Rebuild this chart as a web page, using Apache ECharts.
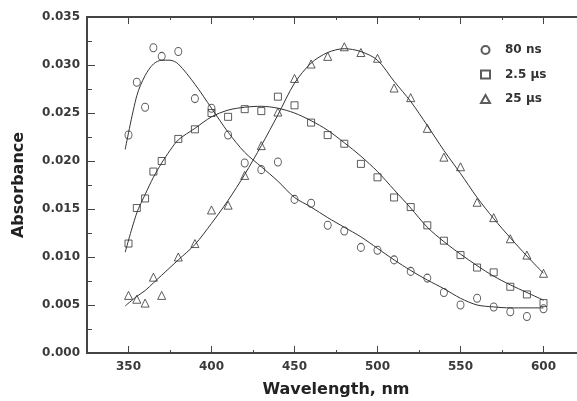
<!DOCTYPE html>
<html>
<head>
<meta charset="utf-8">
<script src="https://cdn.jsdelivr.net/npm/echarts@6/dist/echarts.min.js"></script>
<style>
  html, body { margin: 0; padding: 0; background: #fff; }
  #chart { width: 577px; height: 401px; }
</style>
</head>
<body>
<div id="chart"></div>
<script>
// measured points
const wl80 = [350, 355, 360, 365, 370, 380, 390, 400, 410, 420, 430, 440, 450, 460, 470, 480, 490, 500, 510, 520, 530, 540, 550, 560, 570, 580, 590, 600];
const abs80 = [0.0227, 0.0282, 0.0256, 0.0318, 0.0309, 0.0314, 0.0265, 0.0255, 0.0227, 0.0198, 0.0191, 0.0199, 0.0160, 0.0156, 0.0133, 0.0127, 0.0110, 0.0107, 0.0097, 0.0085, 0.0078, 0.0063, 0.0050, 0.0057, 0.0048, 0.0043, 0.0038, 0.0046];

const wl2500 = [350, 355, 360, 365, 370, 380, 390, 400, 410, 420, 430, 440, 450, 460, 470, 480, 490, 500, 510, 520, 530, 540, 550, 560, 570, 580, 590, 600];
const abs2500 = [0.0114, 0.0151, 0.0161, 0.0189, 0.0200, 0.0223, 0.0233, 0.0250, 0.0246, 0.0254, 0.0252, 0.0267, 0.0258, 0.0240, 0.0227, 0.0218, 0.0197, 0.0183, 0.0162, 0.0152, 0.0133, 0.0117, 0.0102, 0.0089, 0.0084, 0.0069, 0.0061, 0.0052];

const wl25000 = [350, 355, 360, 365, 370, 380, 390, 400, 410, 420, 430, 440, 450, 460, 470, 480, 490, 500, 510, 520, 530, 540, 550, 560, 570, 580, 590, 600];
const abs25000 = [0.0060, 0.0056, 0.0052, 0.0079, 0.0060, 0.0100, 0.0114, 0.0149, 0.0154, 0.0185, 0.0216, 0.0251, 0.0286, 0.0301, 0.0309, 0.0319, 0.0313, 0.0307, 0.0276, 0.0266, 0.0234, 0.0204, 0.0194, 0.0157, 0.0141, 0.0119, 0.0102, 0.0083];

// fitted curves
const fitWl = [348, 355, 360, 365, 370, 375, 380, 390, 400, 410, 420, 430, 440, 450, 460, 470, 480, 490, 500, 510, 520, 530, 540, 550, 560, 570, 580, 590, 600];
const fit80 = [0.0212, 0.0268, 0.0289, 0.0301, 0.0305, 0.0305, 0.0301, 0.0280, 0.0255, 0.0230, 0.0209, 0.0194, 0.0179, 0.0162, 0.0152, 0.0141, 0.0131, 0.0121, 0.0109, 0.0097, 0.0086, 0.0076, 0.0067, 0.0057, 0.0050, 0.0048, 0.0047, 0.0047, 0.0047];
const fit2500 = [0.0105, 0.0146, 0.0165, 0.0183, 0.0198, 0.0211, 0.0222, 0.0234, 0.0246, 0.0253, 0.0256, 0.0257, 0.0255, 0.0250, 0.0242, 0.0232, 0.0219, 0.0205, 0.0189, 0.0170, 0.0151, 0.0131, 0.0116, 0.0103, 0.0091, 0.0080, 0.0071, 0.0063, 0.0055];
const fit25000 = [0.0049, 0.0059, 0.0065, 0.0073, 0.0081, 0.0089, 0.0097, 0.0113, 0.0135, 0.0159, 0.0186, 0.0216, 0.0248, 0.0281, 0.0302, 0.0313, 0.0317, 0.0314, 0.0305, 0.0283, 0.0262, 0.0237, 0.0211, 0.0187, 0.0162, 0.0140, 0.0120, 0.0101, 0.0083];

const xMajor = [350, 400, 450, 500, 550, 600];
const xMinor = [375, 425, 475, 525, 575];
const seriesNames = ['80 ns', '2.5 \u03bcs', '25 \u03bcs'];

const zip = (xs, ys) => xs.map((x, i) => [x, ys[i]]);

const chart = echarts.init(document.getElementById('chart'));

const axisLine = { show: true, onZero: false, lineStyle: { color: '#444', width: 2 } };
const labelFont = { color: '#3a3a3a', fontFamily: 'DejaVu Sans', fontWeight: 'bold', fontSize: 12 };

function xAx(pos, values, len, labels) {
    return {
        type: 'value', position: pos, min: 325, max: 625,
        axisLine: axisLine,
        axisTick: { show: true, inside: true, length: len, customValues: values, lineStyle: { color: '#444', width: 1 } },
        axisLabel: labels ? Object.assign({ show: true, margin: 8, customValues: values }, labelFont) : { show: false },
        splitLine: { show: false }
    };
}

function yAx(pos, labels) {
    return {
        type: 'value', position: pos, min: 0, max: 0.035, interval: 0.005,
        axisLine: axisLine,
        axisTick: { show: true, inside: true, length: 8, lineStyle: { color: '#444', width: 1 } },
        minorTick: { show: true, splitNumber: 2, length: 5, lineStyle: { color: '#444', width: 1 } },
        axisLabel: labels ? Object.assign({ show: true, margin: 7, formatter: v => v.toFixed(3) }, labelFont) : { show: false },
        splitLine: { show: false }
    };
}

const xAxes = [xAx('bottom', xMajor, 7, true), xAx('bottom', xMinor, 3, false), xAx('top', xMajor, 7, false), xAx('top', xMinor, 3, false)];
xAxes[0].name = 'Wavelength, nm';
xAxes[0].nameLocation = 'middle';
xAxes[0].nameGap = 29;
xAxes[0].nameTextStyle = { color: '#222', fontFamily: 'DejaVu Sans', fontWeight: 'bold', fontSize: 16 };

const yAxes = [yAx('left', true), yAx('right', false)];
yAxes[0].name = 'Absorbance';
yAxes[0].nameLocation = 'middle';
yAxes[0].nameGap = 60;
yAxes[0].nameTextStyle = { color: '#222', fontFamily: 'DejaVu Sans', fontWeight: 'bold', fontSize: 16 };

function pts(name, xs, ys, symbol, size) {
    return {
        name: name, type: 'scatter', symbol: symbol, symbolSize: size,
        itemStyle: { color: 'rgba(255,255,255,0)', borderColor: '#333', borderWidth: 1 },
        data: zip(xs, ys), z: 3
    };
}

function fit(ys) {
    return {
        type: 'line', smooth: 0.3, showSymbol: false, symbol: 'none',
        lineStyle: { color: '#333', width: 1 },
        data: zip(fitWl, ys), z: 2, silent: true
    };
}

const option = {
    backgroundColor: '#fff',
    animation: false,
    // plot runs past the right edge of the window, as in the original
    grid: { left: 87, width: 498, top: 17, bottom: 48, outerBoundsMode: 'none', containLabel: false },
    legend: {
        data: seriesNames,
        orient: 'vertical',
        left: 475, top: 39,
        itemWidth: 9, itemHeight: 8, itemGap: 12.5,
        textStyle: { color: '#333', fontFamily: 'DejaVu Sans', fontWeight: 'bold', fontSize: 12, padding: [0, 0, 0, 10] }
    },
    xAxis: xAxes,
    yAxis: yAxes,
    series: [
        fit(fit80), fit(fit2500), fit(fit25000),
        pts(seriesNames[0], wl80, abs80, 'circle', [7, 8]),
        pts(seriesNames[1], wl2500, abs2500, 'rect', 7),
        pts(seriesNames[2], wl25000, abs25000, 'triangle', 8)
    ]
};

chart.setOption(option);
</script>
</body>
</html>
